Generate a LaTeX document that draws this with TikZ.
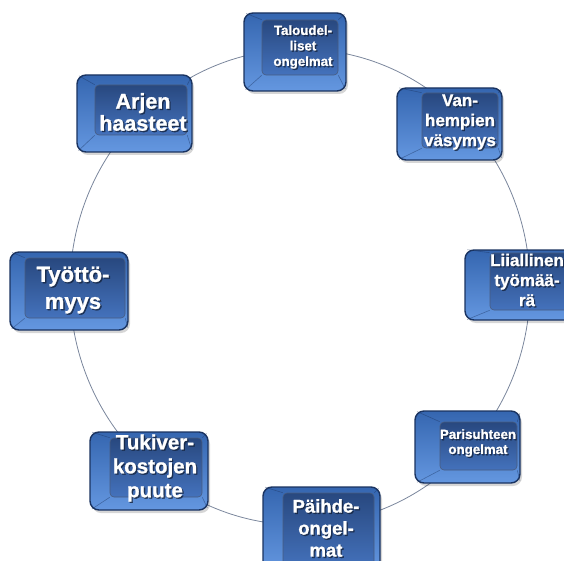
\documentclass[tikz,border=0pt]{standalone}
\usepackage{fontspec}
\setmainfont{Liberation Sans}
\newfontfamily\keyfont[BoldFeatures={FakeBold=1.2}]{Liberation Sans}
\usetikzlibrary{fit,shapes.geometric}
\definecolor{ringc}{HTML}{7A869C}
\definecolor{bodytop}{HTML}{3566B0}
\definecolor{bodybot}{HTML}{6497E0}
\definecolor{edgec}{HTML}{1A3360}
\definecolor{facetop}{HTML}{28487F}
\definecolor{facebot}{HTML}{4472BC}
\definecolor{txtsh}{HTML}{14223B}
\tikzset{
  keybody/.style={rectangle, rounded corners=9pt, inner sep=0pt, draw=edgec, line width=1.4pt, top color=bodytop, bottom color=bodybot},
  keyface/.style={rectangle, rounded corners=4pt, inner sep=0pt, draw=edgec!80, line width=0.6pt, top color=facetop, bottom color=facebot},
  keyshadow/.style={rectangle, rounded corners=9pt, inner sep=0pt, fill=black, opacity=0.16},
  bevel/.style={draw=edgec, opacity=0.45, line width=0.6pt, shorten >=3pt},
  keytext/.style={align=center, text=white, inner sep=0pt},
  shadetext/.style={align=center, text=txtsh, inner sep=0pt, opacity=0.75},
  ringline/.style={ellipse, draw=ringc, line width=0.8pt, inner sep=0pt},
}
% #1 name, #2 body corners, #3 face corners, #4 text position, #5 font size, #6 line skip, #7 text
\newcommand\keycap[7]{%
  \node[keyshadow, fit={#2}, xshift=2pt, yshift=-3pt] (#1s) {};
  \node[keybody, fit={#2}] (#1) {};
  \node[keyface, fit={#3}] (#1f) {};
  \draw[bevel] (#1f.north west) -- (#1.north west);
  \draw[bevel] (#1f.north east) -- (#1.north east);
  \draw[bevel] (#1f.south west) -- (#1.south west);
  \draw[bevel] (#1f.south east) -- (#1.south east);
  \node[shadetext, font={\keyfont\bfseries\fontsize{#5}{#6}\selectfont}, xshift=1.3pt, yshift=-1.3pt] (#1ts) at #4 {#7};
  \node[keytext, font={\keyfont\bfseries\fontsize{#5}{#6}\selectfont}] (#1t) at #4 {#7};
}
\begin{document}
\begin{tikzpicture}[x=1pt, y=-1pt]
\useasboundingbox (0,0) rectangle (564,561);
\node[ringline, minimum width=460pt, minimum height=476pt] (ring) at (300,287) {};

\keycap{k1}{(244,13) (346,91)}{(262,20) (338,75)}{(303,47)}{13.3}{15.5}{Taloudel-\\liset\\ongelmat}
\keycap{k2}{(397,88) (502,160)}{(422,93) (498,148)}{(460,122)}{17}{20}{Van-\\hempien\\väsymys}
\keycap{k3}{(465,250) (574,320)}{(490,253) (570,310)}{(527,280)}{17}{20}{Liiallinen\\työmää-\\rä}
\keycap{k4}{(415,411) (520,483)}{(440,422) (517,470)}{(478,443)}{13.3}{15}{Parisuhteen\\ongelmat}
\keycap{k5}{(263,487) (380,572)}{(283,493) (374,568)}{(326,528)}{18.5}{22}{Päihde-\\ongel-\\mat}
\keycap{k6}{(90,432) (208,510)}{(110,438) (202,497)}{(155,468)}{20.5}{24}{Tukiver-\\kostojen\\puute}
\keycap{k7}{(10,252) (128,330)}{(25,258) (125,318)}{(73,290)}{22}{27}{Työttö-\\myys}
\keycap{k8}{(77,75) (192,152)}{(95,85) (187,135)}{(143,112)}{21.5}{22}{Arjen\\haasteet}
\end{tikzpicture}
\end{document}
